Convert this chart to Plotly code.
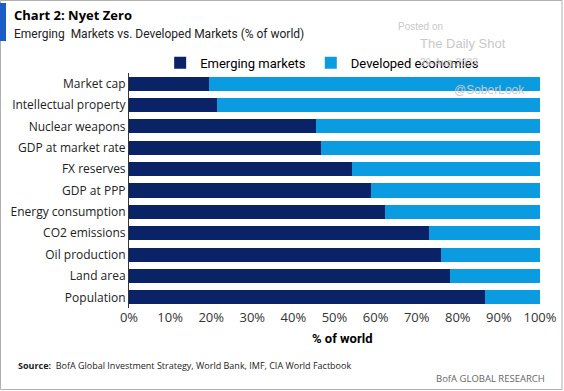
import plotly.graph_objects as go

categories = ["Market cap", "Intellectual property", "Nuclear weapons", "GDP at market rate",
              "FX reserves", "GDP at PPP", "Energy consumption", "CO2 emissions",
              "Oil production", "Land area", "Population"]
emerging = [19.5, 21.4, 45.4, 46.6, 54.3, 58.8, 62.2, 72.9, 75.8, 78.2, 86.6]
developed = [round(100 - v, 1) for v in emerging]
x_ticks = [0, 10, 20, 30, 40, 50, 60, 70, 80, 90, 100]
x_tick_labels = [f"{t}%" for t in x_ticks]

FONT = "Open Sans"
NARROW = "Roboto"
W, H = 564, 391
L, R, T, B = 129, 24, 73, 83

fig = go.Figure()
fig.add_bar(y=categories, x=emerging, orientation="h", name="Emerging markets",
            marker=dict(color="#0a2366", line=dict(width=0)))
fig.add_bar(y=categories, x=developed, orientation="h", name="Developed economies",
            marker=dict(color="#0a9be0", line=dict(width=0)))

fig.update_layout(
    width=W, height=H,
    margin=dict(l=L, r=R, t=T, b=B, autoexpand=False),
    barmode="stack", bargap=0.34,
    paper_bgcolor="white", plot_bgcolor="white",
    font=dict(family=FONT, size=12, color="#222"),
    showlegend=True,
    legend=dict(orientation="h", x=0.47, xanchor="center", y=1.043, yanchor="middle",
                font=dict(family=NARROW, size=13, color="#000"), traceorder="normal",
                itemwidth=30, bgcolor="rgba(0,0,0,0)"),
    xaxis=dict(range=[0, 100], tickvals=x_ticks, ticktext=x_tick_labels, showgrid=False,
               zeroline=False, showline=False, ticks="", ticklen=0, automargin=False,
               tickfont=dict(family=FONT, size=13, color="#333")),
    yaxis=dict(autorange="reversed", showgrid=False, zeroline=False, showline=True,
               linecolor="#333", linewidth=1, ticks="", ticklen=0,
               tickfont=dict(family=FONT, size=12, color="#222"), automargin=False),
)

# frame and accent bar
fig.add_shape(type="rect", xref="paper", yref="paper",
              x0=-(L - 0.5) / (W - L - R), x1=(W - L - 2) / (W - L - R),
              y0=-(B - 1.5) / (H - T - B), y1=1 + (T - 0.5) / (H - T - B),
              line=dict(color="#b0b0b0", width=1), fillcolor="rgba(0,0,0,0)", layer="below")
fig.add_shape(type="rect", xref="paper", yref="paper",
              x0=-L / (W - L - R), x1=-(L - 6) / (W - L - R),
              y0=1 + (T - 41) / (H - T - B), y1=1 + (T - 3) / (H - T - B),
              line=dict(width=0), fillcolor="#1b5cc6")

def px_x(x):
    return (x - L) / (W - L - R)

def px_y(y):
    return 1 - (y - T) / (H - T - B)

def ann(text, x, y, size, color="#000", xanchor="left", bold=False, family=FONT):
    fig.add_annotation(text=f"<b>{text}</b>" if bold else text, xref="paper", yref="paper",
                       x=px_x(x), y=px_y(y), xanchor=xanchor, yanchor="middle",
                       showarrow=False, font=dict(family=family, size=size, color=color))

ann("Chart 2: Nyet Zero", 12, 15, 13, bold=True)
ann("Emerging  Markets vs. Developed Markets (% of world)", 12, 34, 12, color="#222", family=NARROW)
ann("Posted on", 396, 27, 10, color="#c8c8c8", family="Liberation Sans")
ann("The Daily Shot", 418, 43, 13, color="#c8c8c8", family="Liberation Sans")
ann("29-Aug-2023", 418, 62, 10, color="#c8c8c8", family="Liberation Sans")
ann("@SoberLook", 452, 90, 12, color="#c8c8c8", family="Liberation Sans")
ann("% of world", 342, 338, 13, bold=True, xanchor="center", family=NARROW)
ann("<b>Source:</b>  BofA Global Investment Strategy, World Bank, IMF, CIA World Factbook",
    16, 365, 9, color="#222")
ann("BofA GLOBAL RESEARCH", 547, 378, 9.5, color="#666", xanchor="right")

fig.write_html("out.html", config={"displayModeBar": False},
               post_script="document.body.style.margin='0';")
